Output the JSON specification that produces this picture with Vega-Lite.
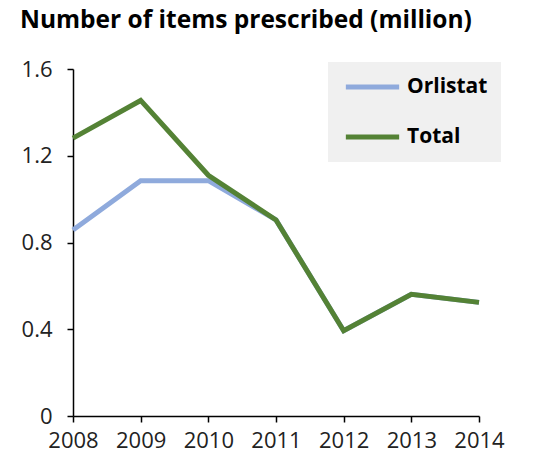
{
  "$schema": "https://vega.github.io/schema/vega-lite/v6.json",
  "width": 406,
  "height": 347,
  "autosize": {"type": "none"},
  "padding": {"left": 73, "top": 69, "right": 54, "bottom": 39},
  "background": "white",
  "title": {
    "text": "Number of items prescribed (million)",
    "anchor": "start",
    "frame": "group",
    "dx": -53,
    "offset": 25,
    "font": "Open Sans",
    "fontSize": 24.5,
    "fontWeight": "bold",
    "color": "black"
  },
  "data": {
    "values": [
      {"year": 2008, "series": "Orlistat", "value": 0.858},
      {"year": 2009, "series": "Orlistat", "value": 1.085},
      {"year": 2010, "series": "Orlistat", "value": 1.085},
      {"year": 2011, "series": "Orlistat", "value": 0.904},
      {"year": 2012, "series": "Orlistat", "value": 0.393},
      {"year": 2013, "series": "Orlistat", "value": 0.561},
      {"year": 2014, "series": "Orlistat", "value": 0.524},
      {"year": 2008, "series": "Total", "value": 1.281},
      {"year": 2009, "series": "Total", "value": 1.455},
      {"year": 2010, "series": "Total", "value": 1.11},
      {"year": 2011, "series": "Total", "value": 0.904},
      {"year": 2012, "series": "Total", "value": 0.393},
      {"year": 2013, "series": "Total", "value": 0.561},
      {"year": 2014, "series": "Total", "value": 0.524}
    ]
  },
  "mark": {"type": "line", "strokeWidth": 5, "strokeJoin": "miter"},
  "encoding": {
    "x": {
      "field": "year",
      "type": "quantitative",
      "scale": {"domain": [2008, 2014], "nice": false, "zero": false},
      "axis": {
        "title": null,
        "format": "d",
        "values": [2008, 2009, 2010, 2011, 2012, 2013, 2014],
        "grid": false,
        "domainColor": "black",
        "domainWidth": 1.5,
        "tickColor": "black",
        "tickWidth": 1.5,
        "tickSize": 6,
        "labelFont": "Open Sans",
        "labelFontSize": 22,
        "labelColor": "#222",
        "labelPadding": 8,
        "labelFlush": false,
        "labelOverlap": false
      }
    },
    "y": {
      "field": "value",
      "type": "quantitative",
      "scale": {"domain": [0, 1.6], "nice": false},
      "axis": {
        "title": null,
        "values": [0, 0.4, 0.8, 1.2, 1.6],
        "format": "~g",
        "grid": false,
        "domainColor": "black",
        "domainWidth": 1.5,
        "tickColor": "black",
        "tickWidth": 1.5,
        "tickSize": 6,
        "labelFont": "Open Sans",
        "labelFontSize": 22,
        "labelColor": "#222",
        "labelPadding": 15
      }
    },
    "color": {
      "field": "series",
      "type": "nominal",
      "scale": {"domain": ["Orlistat", "Total"], "range": ["#8faadc", "#548235"]},
      "legend": {
        "title": null,
        "orient": "none",
        "legendX": 255,
        "legendY": -7,
        "direction": "vertical",
        "fillColor": "#f0f0f0",
        "padding": 13,
        "clipHeight": 24,
        "symbolType": "stroke",
        "symbolSize": 2841,
        "symbolStrokeWidth": 5,
        "symbolOffset": 2,
        "labelFont": "Open Sans",
        "labelFontSize": 21,
        "labelFontWeight": "bold",
        "labelColor": "black",
        "labelOffset": 5,
        "rowPadding": 26
      }
    }
  },
  "config": {"view": {"stroke": null}}
}
